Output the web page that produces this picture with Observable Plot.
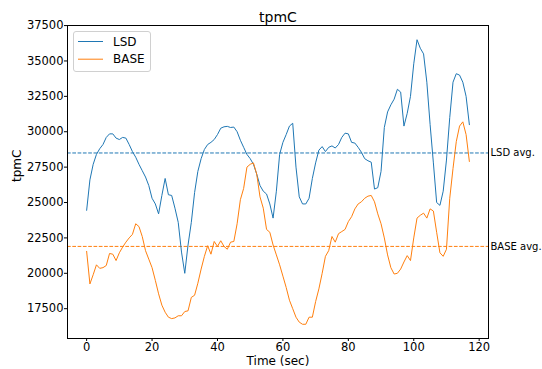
<!DOCTYPE html>
<html><head><meta charset="utf-8">
<script src="https://cdn.jsdelivr.net/npm/d3@7"></script>
<script src="https://cdn.jsdelivr.net/npm/@observablehq/plot@0.6"></script>
<style>
body{margin:0;background:#fff;}
#wrap{position:relative;width:542px;height:369px;font-family:"DejaVu Sans",sans-serif;}
#legend{position:absolute;left:73px;top:31px;}
</style></head>
<body><div id="wrap"></div>
<script>
const seriesNames = ["LSD", "BASE"];
const seriesColors = ["#1f77b4", "#ff7f0e"];
const lsd = [24450,26600,27700,28400,28800,29100,29600,29850,29850,29550,
  29450,29600,29550,29100,28600,28200,27700,27250,26800,26200,
  25300,24900,24200,25500,26700,25550,25500,24600,23600,21500,
  20000,22000,23600,25700,27200,28100,28750,29100,29250,29450,
  29800,30250,30350,30380,30300,30330,30000,29400,28900,28400,
  28100,27700,27000,26200,25800,25600,24900,23900,25800,28400,
  29250,29800,30400,30600,27500,25400,24900,24900,25300,26700,
  27800,28700,28950,28600,28900,29000,28850,29100,29600,29900,
  29850,29250,29200,28900,28550,28100,27950,27850,25950,26050,
  27200,30300,31400,31900,32300,33000,32800,30400,31300,32500,
  34800,36500,35900,35500,33500,30500,27800,25000,24800,25800,
  28000,31000,33500,34100,34000,33500,32500,30500];
const base = [21550,19250,19900,20600,20350,20400,20550,21400,21350,20900,
  21450,21850,22200,22500,22750,23500,23300,22600,21600,21000,
  20400,19500,18550,17750,17250,16900,16800,16850,17000,17000,
  17300,17350,18300,18450,19300,20300,21200,21950,21350,22250,
  21900,22300,21900,21700,22200,22250,23500,25200,26000,27500,
  27700,27800,27000,25400,24600,23100,22900,22000,21300,20600,
  19800,19000,18100,17500,16900,16550,16400,16400,16900,16900,
  18000,18900,20000,21200,21600,22600,22200,22800,22950,23100,
  23650,24000,24550,24900,25050,25300,25450,25500,25050,24200,
  23500,22500,21300,20400,19950,20000,20300,20800,21250,20900,
  22500,23900,24100,24250,23900,24550,24400,22900,21450,21200,
  21700,25300,27400,29300,30400,30700,29800,27900];
const averages = [28500, 21900];
const avgLabels = ["LSD avg.", "BASE avg."];
const xTicks = [0, 20, 40, 60, 80, 100, 120];
const yTicks = [17500, 20000, 22500, 25000, 27500, 30000, 32500, 35000, 37500];
const titleText = "tpmC";
const xLabel = "Time (sec)";
const yLabel = "tpmC";

const rows = [];
lsd.forEach((v, i) => rows.push({t: i, v, s: seriesNames[0]}));
base.forEach((v, i) => rows.push({t: i, v, s: seriesNames[1]}));
const avgRows = averages.map((v, i) => ({v, s: seriesNames[i], label: avgLabels[i]}));

const chart = Plot.plot({
  width: 542, height: 369,
  marginLeft: 67, marginRight: 54, marginTop: 25, marginBottom: 31,
  style: {fontFamily: "DejaVu Sans, sans-serif", fontSize: "11.5px", color: "#000", background: "#fff", overflow: "visible"},
  x: {domain: [-5.85, 122.85], ticks: xTicks, tickSize: 3, tickPadding: 1, label: null, tickFormat: "d"},
  y: {domain: [15395, 37505], ticks: yTicks, tickSize: 3, tickPadding: 1, label: null, tickFormat: "d"},
  color: {domain: seriesNames, range: seriesColors},
  marks: [
    Plot.ruleY(avgRows, {y: "v", stroke: "s", strokeWidth: 1, strokeDasharray: "3.7,1.6"}),
    Plot.line(rows, {x: "t", y: "v", z: "s", stroke: "s", strokeWidth: 1}),
    Plot.frame({stroke: "#000", strokeWidth: 1}),
    Plot.text(avgRows, {y: "v", text: "label", frameAnchor: "right", dx: 2, textAnchor: "start", fontSize: 10, fill: "#000"}),
    Plot.text([titleText], {frameAnchor: "top", lineAnchor: "middle", dy: -8, fontSize: 14, fill: "#000"}),
    Plot.text([xLabel], {frameAnchor: "bottom", lineAnchor: "middle", dy: 23, fontSize: 12, fill: "#000"}),
    Plot.text([yLabel], {frameAnchor: "left", lineAnchor: "middle", dx: -50, rotate: -90, fontSize: 12, fill: "#000"})
  ]
});
const wrap = document.getElementById("wrap");
wrap.appendChild(chart);

// legend
const ns = "http://www.w3.org/2000/svg";
const leg = document.createElementNS(ns, "svg");
leg.setAttribute("id", "legend");
leg.setAttribute("width", 78);
leg.setAttribute("height", 41);
const box = document.createElementNS(ns, "rect");
box.setAttribute("x", 0.5); box.setAttribute("y", 0.5);
box.setAttribute("width", 77); box.setAttribute("height", 40);
box.setAttribute("rx", 2.5);
box.setAttribute("fill", "rgba(255,255,255,0.8)");
box.setAttribute("stroke", "#d0d0d0");
leg.appendChild(box);
seriesNames.forEach((name, i) => {
  const yy = 10.5 + i * 17.7;
  const ln = document.createElementNS(ns, "line");
  ln.setAttribute("x1", 5); ln.setAttribute("x2", 30);
  ln.setAttribute("y1", yy); ln.setAttribute("y2", yy);
  ln.setAttribute("stroke", seriesColors[i]); ln.setAttribute("stroke-width", 1);
  leg.appendChild(ln);
  const tx = document.createElementNS(ns, "text");
  tx.setAttribute("x", 40); tx.setAttribute("y", yy);
  tx.setAttribute("dy", "0.35em");
  tx.setAttribute("font-size", "12px");
  tx.setAttribute("font-family", "DejaVu Sans, sans-serif");
  tx.textContent = name;
  leg.appendChild(tx);
});
wrap.appendChild(leg);
</script>
</body></html>
